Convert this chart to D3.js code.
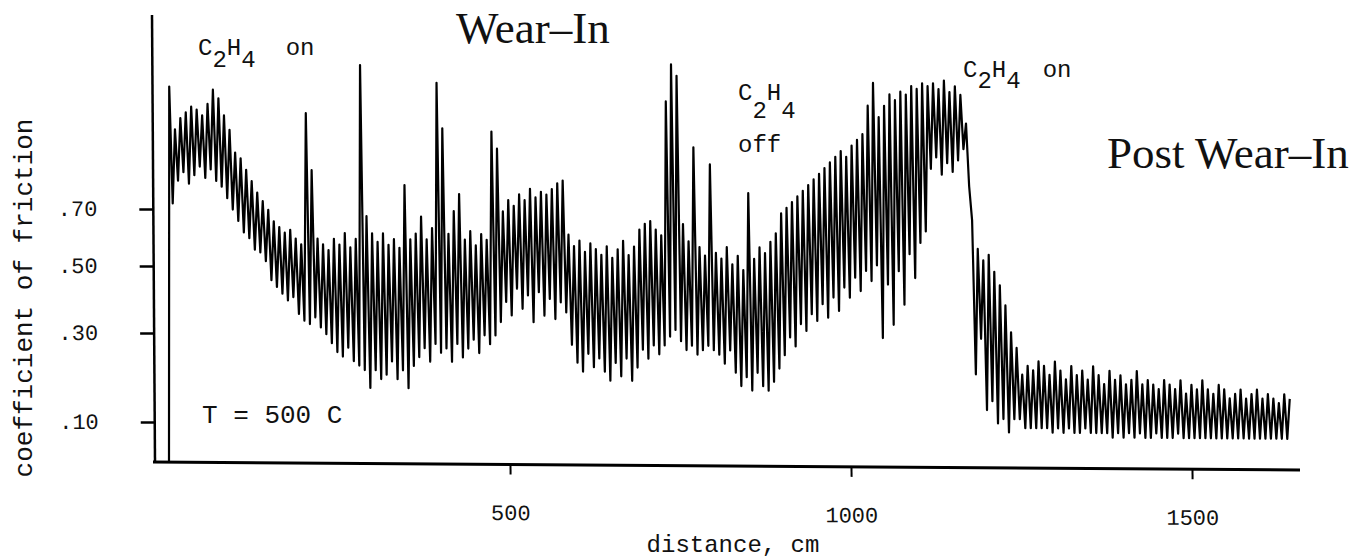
<!DOCTYPE html>
<html>
<head>
<meta charset="utf-8">
<script src="https://cdn.jsdelivr.net/npm/d3@7"></script>
<style>
  body { margin: 0; background: #fff; }
  svg { display: block; }
  .mono { font-family: "Liberation Mono", "DejaVu Sans Mono", monospace; fill: #111; }
  .serif { font-family: "Liberation Serif", serif; fill: #111; }
</style>
</head>
<body>
<div id="chart"></div>
<script>
// ticks
var distTicks = [500, 1000, 1500];
var cofTicks = [0.1, 0.3, 0.5, 0.7];
var cofTickLabels = [".10", ".30", ".50", ".70"];

// friction trace, one reading every 4 cm
var sampleStepCm = 4;
var frictionTrace = [
  0.01,1.13,0.72,0.98,0.80,1.02,0.83,1.04,0.79,1.06,0.82,1.05,0.85,1.03,0.81,1.07,0.84,1.12,0.80,1.09,
  0.78,1.03,0.74,0.98,0.70,0.90,0.66,0.88,0.62,0.84,0.60,0.80,0.56,0.76,0.55,0.73,0.52,0.70,0.46,0.66,
  0.44,0.64,0.42,0.62,0.40,0.63,0.41,0.60,0.36,0.58,0.34,1.04,0.33,0.84,0.35,0.60,0.32,0.58,0.30,0.56,
  0.28,0.60,0.26,0.58,0.25,0.62,0.27,0.57,0.24,0.60,0.23,1.21,0.22,0.68,0.18,0.62,0.22,0.59,0.20,0.62,
  0.21,0.58,0.24,0.60,0.20,0.57,0.22,0.79,0.18,0.60,0.23,0.62,0.25,0.68,0.27,0.60,0.24,0.64,0.28,1.15,
  0.26,0.99,0.27,0.62,0.24,0.70,0.28,0.76,0.25,0.60,0.27,0.63,0.29,0.58,0.26,0.62,0.30,0.60,0.28,0.98,
  0.30,0.92,0.34,0.70,0.40,0.74,0.36,0.72,0.44,0.76,0.38,0.74,0.42,0.78,0.34,0.75,0.43,0.77,0.36,0.76,
  0.41,0.78,0.35,0.80,0.40,0.81,0.37,0.62,0.28,0.58,0.24,0.60,0.22,0.56,0.26,0.59,0.23,0.57,0.25,0.55,
  0.22,0.58,0.20,0.54,0.24,0.57,0.21,0.60,0.25,0.55,0.20,0.58,0.23,0.64,0.27,0.66,0.25,0.67,0.28,0.64,
  0.26,0.62,0.28,1.09,0.30,1.22,0.32,1.18,0.29,0.66,0.27,0.60,0.28,0.93,0.26,0.58,0.27,0.55,0.28,0.87,
  0.27,0.56,0.26,0.54,0.24,0.58,0.27,0.52,0.22,0.55,0.19,0.50,0.21,0.77,0.18,0.54,0.22,0.58,0.19,0.56,
  0.18,0.60,0.20,0.63,0.23,0.70,0.26,0.72,0.30,0.74,0.28,0.76,0.34,0.78,0.32,0.80,0.37,0.82,0.35,0.84,
  0.40,0.86,0.36,0.88,0.42,0.90,0.38,0.92,0.45,0.90,0.42,0.94,0.48,0.96,0.44,0.98,0.50,1.08,0.47,1.16,
  0.52,1.04,0.30,1.08,0.46,1.12,0.34,1.10,0.50,1.13,0.40,1.12,0.56,1.15,0.48,1.14,0.60,1.16,0.64,1.15,
  0.86,1.16,0.90,1.14,0.84,1.17,0.88,1.13,0.85,1.15,0.89,1.12,0.93,1.02,0.80,0.68,0.22,0.58,0.30,0.54,
  0.14,0.56,0.16,0.50,0.11,0.46,0.12,0.40,0.09,0.32,0.12,0.28,0.12,0.22,0.10,0.24,0.10,0.23,0.10,0.25,
  0.10,0.24,0.10,0.22,0.09,0.25,0.10,0.23,0.09,0.21,0.10,0.24,0.09,0.22,0.09,0.23,0.10,0.21,0.09,0.24,
  0.09,0.22,0.09,0.20,0.09,0.23,0.08,0.21,0.09,0.22,0.08,0.20,0.09,0.21,0.08,0.23,0.09,0.20,0.08,0.21,
  0.08,0.20,0.09,0.19,0.08,0.21,0.08,0.20,0.08,0.19,0.09,0.21,0.08,0.18,0.08,0.20,0.08,0.19,0.08,0.21,
  0.08,0.19,0.08,0.18,0.08,0.20,0.08,0.19,0.08,0.17,0.08,0.18,0.08,0.19,0.08,0.17,0.08,0.18,0.08,0.19,
  0.08,0.17,0.08,0.18,0.08,0.17,0.08,0.16,0.08,0.18,0.08,0.17
];

var width = 1365, height = 558;
var originX = 155, originY = 462;

var svg = d3.select("#chart").append("svg")
    .attr("width", width)
    .attr("height", height);

svg.append("rect").attr("width", width).attr("height", height).attr("fill", "#fff");

// x: distance in cm
var x = d3.scaleLinear().domain([0, 1500]).range([169, 1192]);
// y: tick spacing on the original is uneven, so map each tick to its own spot
var y = d3.scaleLinear().domain(cofTicks).range([422, 333, 266, 209]);

// the scanned sheet is a little skewed: x axis drops to the right, y axis leans left
var skewB = 0.007, skewC = 0.0067;
var plot = svg.append("g")
    .attr("transform", "matrix(1," + skewB + "," + skewC + ",1," +
          (-skewC * originY) + "," + (-skewB * originX) + ")");

// trace
var line = d3.line()
    .x(function(d, i){ return x(i * sampleStepCm); })
    .y(function(d){ return y(d); });

plot.append("path")
    .datum(frictionTrace)
    .attr("d", line)
    .attr("fill", "none")
    .attr("stroke", "#000")
    .attr("stroke-width", 2.2)
    .attr("stroke-linejoin", "round");

// axes
var yAxis = d3.axisLeft(y)
    .tickValues(cofTicks)
    .tickFormat(function(d, i){ return cofTickLabels[i]; })
    .tickSize(14)
    .tickPadding(42);

var gy = plot.append("g")
    .attr("transform", "translate(" + originX + ",0)")
    .call(yAxis);
gy.select(".domain").remove();
gy.selectAll(".tick line").attr("stroke", "#000").attr("stroke-width", 2.5);
gy.selectAll(".tick text")
    .attr("class", "mono")
    .style("font-size", "22px")
    .attr("font-family", null);

var xAxis = d3.axisBottom(x)
    .tickValues(distTicks)
    .tickFormat(d3.format("d"))
    .tickSize(10)
    .tickPadding(30);

var gx = plot.append("g")
    .attr("transform", "translate(0," + originY + ")")
    .call(xAxis);
gx.select(".domain").remove();
gx.selectAll(".tick line").attr("stroke", "#000").attr("stroke-width", 2);
gx.selectAll(".tick text")
    .attr("class", "mono")
    .style("font-size", "22px")
    .attr("font-family", null);

plot.append("line")
    .attr("x1", originX).attr("y1", 15)
    .attr("x2", originX).attr("y2", originY)
    .attr("stroke", "#000").attr("stroke-width", 2.5);
plot.append("line")
    .attr("x1", originX - 2).attr("y1", originY)
    .attr("x2", 1300).attr("y2", originY)
    .attr("stroke", "#000").attr("stroke-width", 3);

// axis titles
svg.append("text")
    .attr("class", "mono")
    .attr("transform", "translate(32,298) rotate(-90)")
    .attr("text-anchor", "middle")
    .style("font-size", "26px")
    .text("coefficient of friction");

svg.append("text")
    .attr("class", "mono")
    .attr("x", 733).attr("y", 552)
    .attr("text-anchor", "middle")
    .style("font-size", "24px")
    .text("distance, cm");

// section titles
svg.append("text")
    .attr("class", "serif")
    .attr("x", 456).attr("y", 43)
    .style("font-size", "45px")
    .text("Wear\u2013In");

svg.append("text")
    .attr("class", "serif")
    .attr("x", 1107).attr("y", 168)
    .style("font-size", "45px")
    .text("Post Wear\u2013In");

// C2H4 notes
function gasLabel(px, py, sub, tail, tailDx, tailDy) {
  var t = svg.append("text").attr("class", "mono")
      .attr("x", px).attr("y", py)
      .style("font-size", "24px");
  t.append("tspan").text("C");
  t.append("tspan").attr("dy", sub).text("2");
  t.append("tspan").attr("dy", -sub).text("H");
  t.append("tspan").attr("dy", sub).text("4");
  if (tail) {
    t.append("tspan").attr("dx", tailDx).attr("dy", tailDy).text(tail);
  }
  return t;
}

gasLabel(198, 55, 12, "on", 30, -12);
gasLabel(963, 77, 11, "on", 22, -11);
gasLabel(738, 100, 18, null);

svg.append("text")
    .attr("class", "mono")
    .attr("x", 738).attr("y", 152)
    .style("font-size", "24px")
    .text("off");

svg.append("text")
    .attr("class", "mono")
    .attr("x", 202).attr("y", 423)
    .style("font-size", "26px")
    .text("T = 500 C");
</script>
</body>
</html>
